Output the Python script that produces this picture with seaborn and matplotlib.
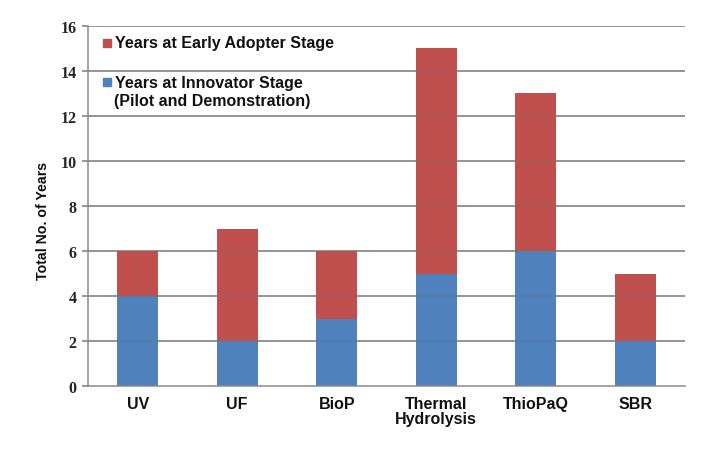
import matplotlib
matplotlib.use("Agg")
import matplotlib.pyplot as plt
import seaborn as sns
import pandas as pd

categories = ["UV", "UF", "BioP", "Thermal\nHydrolysis", "ThioPaQ", "SBR"]
innovator_years = [4, 2, 3, 5, 6, 2]
early_adopter_years = [2, 5, 3, 10, 7, 3]
y_ticks = [0, 2, 4, 6, 8, 10, 12, 14, 16]
legend_early = "Years at Early Adopter Stage"
legend_innov = ["Years at Innovator Stage", "(Pilot and Demonstration)"]

sns.set_theme(style="white")
plt.rcParams['font.family'] = ['Liberation Sans', 'DejaVu Sans']

df = pd.DataFrame({
    "cat": categories,
    "innov": innovator_years,
    "early": early_adopter_years,
})
df["total"] = df["innov"] + df["early"]

BLUE = "#4F81BD"
RED = "#C0504D"

fig = plt.figure(figsize=(7.21, 4.56), dpi=100)
ax = fig.add_axes([0.122, 0.151, 0.828, 0.790])

sns.barplot(data=df, x="cat", y="total", color=RED, saturation=1, width=0.41,
            ax=ax, zorder=2, edgecolor="none")
sns.barplot(data=df, x="cat", y="innov", color=BLUE, saturation=1, width=0.41,
            ax=ax, zorder=2, edgecolor="none")

ax.set_ylim(0, 16)
ax.set_xlim(-0.5, len(categories) - 0.5)
ax.set_yticks(y_ticks)
ax.set_yticklabels([str(t) for t in y_ticks], fontfamily="Liberation Serif",
                   fontweight="bold", fontsize=11.5)
for t in y_ticks[1:]:
    ax.axhline(t, color="#8a8a8a", lw=1.1, zorder=1)
    ax.axhline(t, color="#707070", lw=1.1, alpha=0.35, zorder=3)

ax.set_xticks(range(len(categories)))
ax.set_xticklabels(categories, fontweight="bold", fontsize=11.5, color="#111111",
                   linespacing=1.05)
ax.set_xlabel("")
ax.set_ylabel("Total No. of Years", fontweight="bold", fontsize=10.2, color="#111111")
ax.yaxis.set_label_coords(-0.064, 0.46)

for s in ["top", "right"]:
    ax.spines[s].set_visible(False)
ax.spines["left"].set_color("#8a8a8a")
ax.spines["bottom"].set_color("#8a8a8a")
ax.spines["left"].set_linewidth(1.1)
ax.spines["bottom"].set_linewidth(1.1)
ax.tick_params(axis="y", length=4, color="#8a8a8a", left=True, pad=4)
ax.tick_params(axis="x", length=0, pad=7)

# legend drawn manually (marker aligned with first text line as in reference)
tr = ax.transAxes
ax.plot([0.032], [0.953], marker="s", ms=6, color=RED, transform=tr, clip_on=False, zorder=5)
ax.text(0.046, 0.953, legend_early, transform=tr, va="center", ha="left",
        fontsize=11.5, fontweight="bold", color="#111111", zorder=5)
ax.plot([0.032], [0.843], marker="s", ms=6, color=BLUE, transform=tr, clip_on=False, zorder=5)
ax.text(0.046, 0.843, legend_innov[0], transform=tr, va="center", ha="left",
        fontsize=11.5, fontweight="bold", color="#111111", zorder=5)
ax.text(0.043, 0.793, legend_innov[1], transform=tr, va="center", ha="left",
        fontsize=11.5, fontweight="bold", color="#111111", zorder=5)

fig.savefig("out.png", dpi=100)
